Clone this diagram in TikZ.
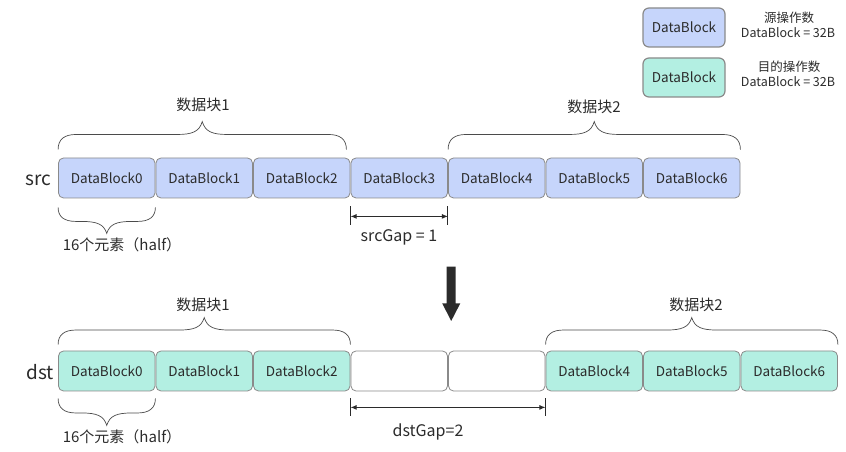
\documentclass[tikz,border=0pt]{standalone}
\usepackage{fontspec}
\setmainfont{Noto Sans CJK SC}
\usetikzlibrary{arrows.meta,calc}
\definecolor{srcfill}{HTML}{C6D5FB}
\definecolor{dstfill}{HTML}{B3EFE2}
\definecolor{edge}{HTML}{8A8A8A}
\definecolor{txt}{HTML}{2B2B2B}
\begin{document}
\begin{tikzpicture}[x=1pt,y=1pt,
  blk/.style={draw=edge, line width=0.8pt, rounded corners=5pt, minimum width=96.5pt, minimum height=40pt, inner sep=0pt, text=txt, font=\fontsize{13.5}{16}\selectfont},
  sblk/.style={blk, fill=srcfill},
  dblk/.style={blk, fill=dstfill},
  eblk/.style={blk, fill=white},
  legbox/.style={blk, line width=1.2pt, rounded corners=6pt, minimum width=82pt, minimum height=39pt},
  lbl/.style={text=txt, font=\fontsize{15}{18}\selectfont, inner sep=0pt},
  leglbl/.style={text=txt, font=\fontsize{12.5}{15}\selectfont, inner sep=0pt},
  gaplbl/.style={text=txt, font=\fontsize{16}{19}\selectfont, inner sep=0pt},
  rowlbl/.style={text=txt, font=\fontsize{19}{22}\selectfont, inner sep=0pt},
  curly/.style={draw=txt!85, line width=0.7pt, to path={
    (\tikztostart) .. controls ($(\tikztostart)+(0,#1*0.36)$) and ($(\tikztostart)+(6,#1*0.54)$) .. ($(\tikztostart)+(18,#1*0.54)$)
    -- ($(\tikztostart)!0.5!(\tikztotarget)+(-25,#1*0.54)$)
    .. controls ($(\tikztostart)!0.5!(\tikztotarget)+(-10,#1*0.54)$) and ($(\tikztostart)!0.5!(\tikztotarget)+(-3,#1*0.64)$) .. ($(\tikztostart)!0.5!(\tikztotarget)+(0,#1)$)
    .. controls ($(\tikztostart)!0.5!(\tikztotarget)+(3,#1*0.64)$) and ($(\tikztostart)!0.5!(\tikztotarget)+(10,#1*0.54)$) .. ($(\tikztostart)!0.5!(\tikztotarget)+(25,#1*0.54)$)
    -- ($(\tikztotarget)+(-18,#1*0.54)$) .. controls ($(\tikztotarget)+(-6,#1*0.54)$) and ($(\tikztotarget)+(0,#1*0.36)$) .. (\tikztotarget)}},
  gap/.style={draw=txt, line width=0.9pt, {Latex[length=6pt,width=5pt]}-{Latex[length=6pt,width=5pt]}},
  tick/.style={draw=txt, line width=0.9pt},
]
\useasboundingbox (0,0) rectangle (846,452);

% legend
\node[legbox, fill=srcfill] (lg1) at (684,424.5) {DataBlock};
\node[legbox, fill=dstfill] (lg2) at (684,374.5) {DataBlock};
\node[leglbl] (lt1) at (789,434) {源操作数};
\node[leglbl] (lt2) at (788,419) {DataBlock = 32B};
\node[leglbl] (lt3) at (789,385) {目的操作数};
\node[leglbl] (lt4) at (788,370) {DataBlock = 32B};

% src row
\node[rowlbl] (srcl) at (38,272) {src};
\foreach \i in {0,...,6} \node[sblk] (s\i) at ({106.75+97.5*\i},274) {DataBlock\i};

\draw[curly=28] ([yshift=8pt]s0.north west) to ([xshift=-4pt,yshift=8pt]s2.north east);
\node[lbl] (sb1) at (203,347) {数据块1};
\draw[curly=28] ([yshift=8pt]s4.north west) to ([yshift=8pt]s6.north east);
\node[lbl] (sb2) at (594,345) {数据块2};

\draw[curly=-26] ([yshift=-9pt]s0.south west) to ([yshift=-9pt]s0.south east);
\node[lbl] (se) at (122,207) {16个元素（half）};

\draw[tick] ([yshift=-8pt]s3.south west) -- ([yshift=-27pt]s3.south west);
\draw[tick] ([yshift=-8pt]s3.south east) -- ([yshift=-27pt]s3.south east);
\coordinate (sg1) at ([yshift=-18pt]s3.south west);
\coordinate (sg2) at ([yshift=-18pt]s3.south east);
\draw[gap] (sg1) -- (sg2);
\node[gaplbl] (sgl) at (399,215) {srcGap = 1};

% big arrow
\fill[txt] (446.7,185.3) -- (455.7,185.3) -- (455.7,148.7) -- (460.3,148.7) -- (451.2,131) -- (442.2,148.7) -- (446.7,148.7) -- cycle;

% dst row
\node[rowlbl] (dstl) at (40,80) {dst};
\foreach \i in {0,1,2} \node[dblk] (d\i) at ({106.75+97.5*\i},81) {DataBlock\i};
\node[eblk] (e1) at ({106.75+97.5*3},81) {};
\node[eblk] (e2) at ({106.75+97.5*4},81) {};
\foreach \i in {4,5,6} \node[dblk] (d\i) at ({106.75+97.5*(\i+1)},81) {DataBlock\i};

\draw[curly=27] ([yshift=6pt]d0.north west) to ([yshift=6pt]d2.north east);
\node[lbl] (db1) at (203,147) {数据块1};
\draw[curly=27] ([yshift=6pt]d4.north west) to ([yshift=6pt]d6.north east);
\node[lbl] (db2) at (696,147) {数据块2};

\draw[curly=-27] ([yshift=-7pt]d0.south west) to ([yshift=-7pt]d0.south east);
\node[lbl] (de) at (122,15) {16个元素（half）};

\draw[tick] ([yshift=-7pt]e1.south west) -- ([yshift=-25pt]e1.south west);
\draw[tick] ([yshift=-7pt]e2.south east) -- ([yshift=-25pt]e2.south east);
\coordinate (dg1) at ([yshift=-16pt]e1.south west);
\coordinate (dg2) at ([yshift=-16pt]e2.south east);
\draw[gap] (dg1) -- (dg2);
\node[gaplbl] (dgl) at (428,20) {dstGap=2};
\end{tikzpicture}
\end{document}
